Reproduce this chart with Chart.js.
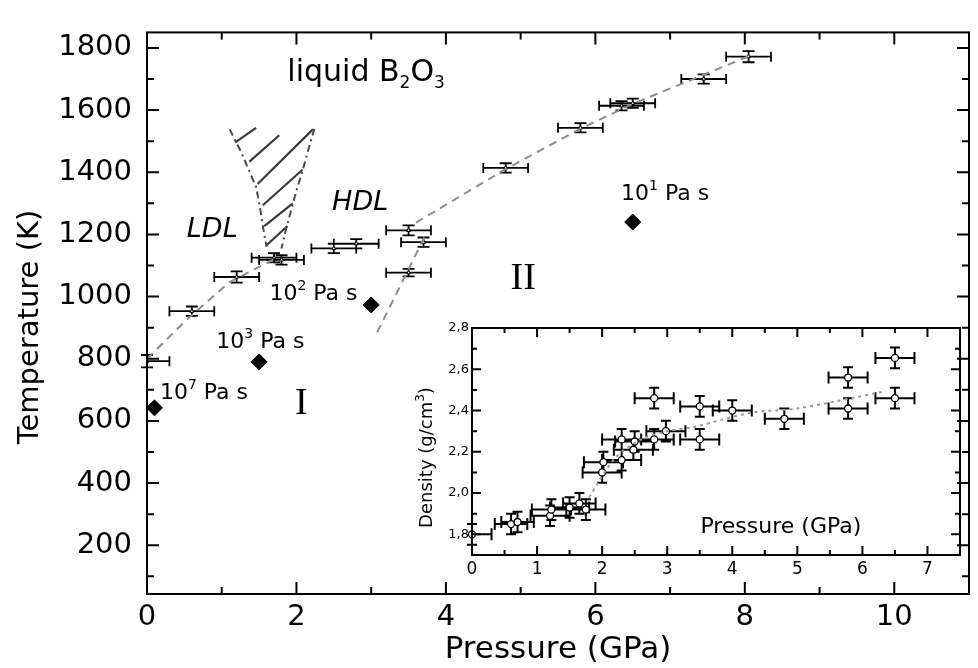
<!DOCTYPE html>
<html><head><meta charset="utf-8">
<script src="https://cdn.jsdelivr.net/npm/chart.js@4.4.1/dist/chart.umd.min.js"></script>
<style>
html,body{margin:0;padding:0;background:#fff;}
#wrap{position:relative;width:978px;height:668px;overflow:hidden;background:#fff;}
#main{position:absolute;left:0;top:0;}
#inset{position:absolute;left:400px;top:310px;}
</style></head><body>
<div id="wrap"><canvas id="main" width="978" height="668"></canvas><canvas id="inset" width="575" height="290"></canvas></div>
<script>
// ---------- main panel: axis ticks ----------
const xTickLabels = [0, 2, 4, 6, 8, 10];
const xMinorTicks = [1, 3, 5, 7, 9];
const yTickLabels = [200, 400, 600, 800, 1000, 1200, 1400, 1600, 1800];
const yMinorTicks = [100, 300, 500, 700, 900, 1100, 1300, 1500, 1700];

// ---------- main panel: melting / transition points with error bars ----------
const meltP    = [0.0, 0.6, 1.2, 1.7, 1.8, 2.5, 2.8, 3.5, 3.7, 3.5, 4.8, 5.8, 6.35, 6.5, 7.45, 8.05];
const meltT    = [792, 953, 1063, 1125, 1118, 1155, 1170, 1213, 1175, 1077, 1414, 1543, 1614, 1622, 1700, 1772];
const meltPErr = [0.3, 0.3, 0.3, 0.3, 0.3, 0.3, 0.3, 0.3, 0.3, 0.3, 0.3, 0.3, 0.3, 0.3, 0.3, 0.3];
const meltTErr = [20, 15, 18, 15, 15, 15, 15, 16, 15, 12, 15, 15, 15, 15, 15, 18];

// ---------- main panel: viscosity points ----------
const viscP = [0.1, 1.5, 3.0, 6.5];
const viscT = [642, 790, 973, 1240];
const viscExp = ['7', '3', '2', '1'];

// ---------- main panel: dashed guide lines ----------
const ldlLineP = [0.0, 0.55, 1.1, 1.7];
const ldlLineT = [800, 930, 1046, 1120];
const hdlLineP = [3.6, 4.8, 5.8, 6.5, 8.1];
const hdlLineT = [1238, 1410, 1540, 1620, 1778];
const steepLineP = [3.08, 3.72];
const steepLineT = [885, 1195];

// ---------- main panel: hatched region ----------
const wedgeLeftP  = [1.107, 1.26, 1.35, 1.46, 1.51, 1.55, 1.6];
const wedgeLeftT  = [1538, 1465, 1414, 1352, 1290, 1227, 1160];
const wedgeRightP = [2.24, 2.15, 2.08, 2.0, 1.93, 1.86, 1.8];
const wedgeRightT = [1540, 1465, 1403, 1341, 1279, 1217, 1155];
const hatchP1 = [1.18, 1.37, 1.48, 1.55, 1.57, 1.6];
const hatchT1 = [1496, 1434, 1362, 1294, 1227, 1165];
const hatchP2 = [1.46, 1.77, 2.22, 2.08, 1.95, 1.88];
const hatchT2 = [1543, 1519, 1538, 1408, 1300, 1227];

// ---------- inset: density vs pressure ----------
const insetXTicks = [0, 1, 2, 3, 4, 5, 6, 7];
const insetXMinor = [0.5, 1.5, 2.5, 3.5, 4.5, 5.5, 6.5];
const insetYTicks = [1.8, 2.0, 2.2, 2.4, 2.6, 2.8];
const insetYMinor = [1.9, 2.1, 2.3, 2.5, 2.7];
const densP    = [0.0, 0.6, 0.7, 1.2, 1.22, 1.5, 1.65, 1.75, 2.0, 2.02, 2.3, 2.3, 2.48, 2.5, 2.8, 2.8, 2.98, 3.5, 3.5, 4.0, 4.8, 5.78, 5.78, 6.5, 6.5];
const densD    = [1.80, 1.85, 1.86, 1.89, 1.92, 1.93, 1.95, 1.92, 2.10, 2.15, 2.16, 2.26, 2.21, 2.25, 2.26, 2.46, 2.30, 2.26, 2.42, 2.40, 2.36, 2.41, 2.56, 2.46, 2.655];
const densPErr = [0.3, 0.25, 0.25, 0.3, 0.3, 0.3, 0.25, 0.3, 0.3, 0.3, 0.3, 0.3, 0.3, 0.3, 0.3, 0.3, 0.3, 0.3, 0.3, 0.3, 0.3, 0.3, 0.3, 0.3, 0.3];
const densDErr = [0.05, 0.05, 0.05, 0.05, 0.05, 0.05, 0.05, 0.05, 0.05, 0.05, 0.05, 0.05, 0.05, 0.05, 0.05, 0.05, 0.05, 0.05, 0.05, 0.05, 0.05, 0.05, 0.05, 0.05, 0.05];
const densTrendP = [1.8, 2.2, 2.6, 3.0, 3.4, 4.3, 5.0, 6.3];
const densTrendD = [1.98, 2.17, 2.26, 2.30, 2.32, 2.39, 2.41, 2.49];

const FONT = '"DejaVu Sans", "Liberation Sans", sans-serif';
const zip = (a, b) => a.map((v, i) => ({x: v, y: b[i]}));

// text annotations (anchored to data coordinates)
const mainNotes = [
  {x: 0.173, y: 672, parts: [['10', 22, 0], [viscExp[0], 14, -10], [' Pa s', 22, 0]]},
  {x: 0.928, y: 833, parts: [['10', 22, 0], [viscExp[1], 14, -10], [' Pa s', 22, 0]]},
  {x: 1.638, y: 988, parts: [['10', 22, 0], [viscExp[2], 14, -10], [' Pa s', 22, 0]]},
  {x: 6.343, y: 1310, parts: [['10', 22, 0], [viscExp[3], 14, -10], [' Pa s', 22, 0]]},
  {x: 1.878, y: 1693, parts: [['liquid B', 30, 0], ['2', 17, 7], ['O', 30, 0], ['3', 17, 7]]},
  {x: 0.533, y: 1191, parts: [['LDL', 27, 0, 'italic']]},
  {x: 2.477, y: 1279, parts: [['HDL', 27, 0, 'italic']]},
  {x: 2.064, y: 621, parts: [['I', 38, 0, 'serif']], center: true},
  {x: 5.034, y: 1025, parts: [['II', 38, 0, 'serif']], center: true}
];

function fontOf(p) {
  if (p[3] === 'serif') return p[1] + 'px "Liberation Serif", "DejaVu Serif", serif';
  if (p[3] === 'italic') return 'italic ' + p[1] + 'px ' + FONT;
  return p[1] + 'px ' + FONT;
}
function richText(ctx, x, y, parts, center) {
  let w = 0;
  parts.forEach(p => { ctx.font = fontOf(p); w += ctx.measureText(p[0]).width; });
  let cx = center ? x - w / 2 : x;
  ctx.textAlign = 'left'; ctx.textBaseline = 'alphabetic';
  parts.forEach(p => { ctx.font = fontOf(p); ctx.fillText(p[0], cx, y + p[2]); cx += ctx.measureText(p[0]).width; });
}

function errorBars(ctx, ca, xs, ys, P, V, pErr, vErr, capH, capV) {
  ctx.beginPath();
  for (let i = 0; i < P.length; i++) {
    const cx = xs.getPixelForValue(P[i]), cy = ys.getPixelForValue(V[i]);
    const x1 = xs.getPixelForValue(P[i] - pErr[i]), x2 = xs.getPixelForValue(P[i] + pErr[i]);
    const y1 = ys.getPixelForValue(V[i] - vErr[i]), y2 = ys.getPixelForValue(V[i] + vErr[i]);
    const L = Math.max(x1, ca.left), R = Math.min(x2, ca.right);
    ctx.moveTo(L, cy); ctx.lineTo(R, cy);
    if (x1 >= ca.left) { ctx.moveTo(x1, cy - capH); ctx.lineTo(x1, cy + capH); }
    if (x2 <= ca.right) { ctx.moveTo(x2, cy - capH); ctx.lineTo(x2, cy + capH); }
    ctx.moveTo(cx, y1); ctx.lineTo(cx, y2);
    ctx.moveTo(cx - capV, y1); ctx.lineTo(cx + capV, y1);
    ctx.moveTo(cx - capV, y2); ctx.lineTo(cx + capV, y2);
  }
  ctx.stroke();
}

function frameAndTicks(ctx, ca, xs, ys, xMaj, xMin, yMaj, yMin, majL, minL, lw) {
  ctx.save();
  ctx.strokeStyle = '#000'; ctx.lineWidth = lw;
  ctx.strokeRect(ca.left, ca.top, ca.right - ca.left, ca.bottom - ca.top);
  ctx.beginPath();
  const tx = (vals, len) => vals.forEach(v => {
    const px = xs.getPixelForValue(v);
    ctx.moveTo(px, ca.bottom); ctx.lineTo(px, ca.bottom - len);
    ctx.moveTo(px, ca.top); ctx.lineTo(px, ca.top + len);
  });
  const ty = (vals, len) => vals.forEach(v => {
    const py = ys.getPixelForValue(v);
    ctx.moveTo(ca.left, py); ctx.lineTo(ca.left + len, py);
    ctx.moveTo(ca.right, py); ctx.lineTo(ca.right - len, py);
  });
  tx(xMaj, majL); tx(xMin, minL); ty(yMaj, majL); ty(yMin, minL);
  ctx.stroke();
  ctx.restore();
}

const mainPlugin = {
  id: 'mainDecor',
  beforeDatasetsDraw(chart) {
    const {ctx, chartArea: ca, scales: {x, y}} = chart;
    ctx.save(); ctx.strokeStyle = '#000'; ctx.lineWidth = 1.8;
    errorBars(ctx, ca, x, y, meltP, meltT, meltPErr, meltTErr, 5, 6);
    ctx.restore();
  },
  afterDraw(chart) {
    const {ctx, chartArea: ca, scales: {x, y}} = chart;
    frameAndTicks(ctx, ca, x, y, xTickLabels, xMinorTicks, yTickLabels, yMinorTicks, 12, 7, 2);
    ctx.save(); ctx.fillStyle = '#000';
    mainNotes.forEach(n => richText(ctx, x.getPixelForValue(n.x), y.getPixelForValue(n.y), n.parts, n.center));
    ctx.font = '31px ' + FONT; ctx.textAlign = 'center'; ctx.textBaseline = 'alphabetic';
    ctx.fillText('Pressure (GPa)', (ca.left + ca.right) / 2, ca.bottom + 64);
    ctx.translate(38, 327); ctx.rotate(-Math.PI / 2);
    ctx.font = '29px ' + FONT; ctx.fillText('Temperature (K)', 0, 0);
    ctx.restore();
  }
};

const lineDs = (label, P, T, color, dash, width) => ({
  label, data: zip(P, T), showLine: true, borderColor: color, borderDash: dash,
  borderWidth: width, pointRadius: 0, fill: false, tension: 0
});

const hatchDatasets = hatchP1.map((p, i) =>
  lineDs('hatch' + i, [p, hatchP2[i]], [hatchT1[i], hatchT2[i]], '#3a3a3a', [], 2.2));

new Chart(document.getElementById('main'), {
  type: 'scatter',
  data: {
    datasets: [
      lineDs('LDL trend', ldlLineP, ldlLineT, '#8c8c8c', [8, 6], 2),
      lineDs('HDL trend', hdlLineP, hdlLineT, '#8c8c8c', [8, 6], 2),
      lineDs('II boundary', steepLineP, steepLineT, '#8c8c8c', [8, 6], 2),
      lineDs('wedge left', wedgeLeftP, wedgeLeftT, '#4a4a4a', [7, 4, 2, 4], 2),
      lineDs('wedge right', wedgeRightP, wedgeRightT, '#4a4a4a', [7, 4, 2, 4], 2),
      ...hatchDatasets,
      {label: 'melting', data: zip(meltP, meltT), pointStyle: 'triangle', pointRadius: 2.2,
       borderColor: '#000', backgroundColor: '#fff', borderWidth: 1},
      {label: 'viscosity', data: zip(viscP, viscT), pointStyle: 'rectRot', pointRadius: 8,
       borderColor: '#000', backgroundColor: '#000', borderWidth: 1, clip: false}
    ]
  },
  options: {
    responsive: false, animation: false, devicePixelRatio: 1,
    layout: {padding: {left: 0, top: 13, right: 5, bottom: 0}},
    plugins: {legend: {display: false}, tooltip: {enabled: false}},
    scales: {
      x: {type: 'linear', min: 0, max: 11,
          afterFit: s => { s.height = 74; },
          afterBuildTicks: s => { s.ticks = xTickLabels.map(v => ({value: v})); },
          ticks: {font: {family: FONT, size: 29}, color: '#000', padding: 6, maxRotation: 0, autoSkip: false,
                  callback: v => String(v)},
          grid: {display: false, drawTicks: false}, border: {display: false}},
      y: {type: 'linear', min: 43, max: 1850,
          afterFit: s => { s.width = 147; },
          afterBuildTicks: s => { s.ticks = yTickLabels.map(v => ({value: v})); },
          ticks: {font: {family: FONT, size: 29}, color: '#000', padding: 15, autoSkip: false,
                  callback: v => String(v)},
          grid: {display: false, drawTicks: false}, border: {display: false}}
    }
  },
  plugins: [mainPlugin]
});

// ---------- inset ----------
const insetPlugin = {
  id: 'insetDecor',
  beforeDatasetsDraw(chart) {
    const {ctx, chartArea: ca, scales: {x, y}} = chart;
    ctx.save(); ctx.strokeStyle = '#000'; ctx.lineWidth = 2;
    errorBars(ctx, ca, x, y, densP, densD, densPErr, densDErr, 6, 5);
    ctx.restore();
  },
  afterDraw(chart) {
    const {ctx, chartArea: ca, scales: {x, y}} = chart;
    frameAndTicks(ctx, ca, x, y, insetXTicks, insetXMinor, insetYTicks, insetYMinor, 9, 5, 2);
    ctx.save(); ctx.fillStyle = '#000';
    ctx.font = '22px ' + FONT; ctx.textAlign = 'left'; ctx.textBaseline = 'alphabetic';
    ctx.fillText('Pressure (GPa)', x.getPixelForValue(3.51), y.getPixelForValue(1.806));
    ctx.translate(32, 147.5); ctx.rotate(-Math.PI / 2);
    richText(ctx, 0, 0, [['Density (g/cm', 18, 0], ['3', 12, -8], [')', 18, 0]], true);
    ctx.restore();
  }
};

new Chart(document.getElementById('inset'), {
  type: 'scatter',
  data: {
    datasets: [
      {label: 'trend', data: zip(densTrendP, densTrendD), showLine: true, borderColor: '#9a9a9a',
       borderDash: [3, 4], borderWidth: 2, pointRadius: 0, fill: false, tension: 0.3},
      {label: 'density', data: zip(densP, densD), pointStyle: 'circle', pointRadius: 3.5,
       borderColor: '#000', backgroundColor: '#fff', borderWidth: 1.3, clip: false}
    ]
  },
  options: {
    responsive: false, animation: false, devicePixelRatio: 1,
    layout: {padding: {left: 0, top: 18, right: 15, bottom: 0}},
    plugins: {legend: {display: false}, tooltip: {enabled: false}},
    scales: {
      x: {type: 'linear', min: 0, max: 7.5,
          afterFit: s => { s.height = 45; },
          afterBuildTicks: s => { s.ticks = insetXTicks.map(v => ({value: v})); },
          ticks: {font: {family: FONT, size: 17}, color: '#000', padding: 4, maxRotation: 0, autoSkip: false,
                  callback: v => String(v)},
          grid: {display: false, drawTicks: false}, border: {display: false}},
      y: {type: 'linear', min: 1.7, max: 2.8,
          afterFit: s => { s.width = 72; },
          afterBuildTicks: s => { s.ticks = insetYTicks.map(v => ({value: v})); },
          ticks: {font: {family: FONT, size: 13}, color: '#000', padding: 3, autoSkip: false,
                  callback: v => v.toFixed(1).replace('.', ',')},
          grid: {display: false, drawTicks: false}, border: {display: false}}
    }
  },
  plugins: [insetPlugin]
});
</script>
</body></html>
